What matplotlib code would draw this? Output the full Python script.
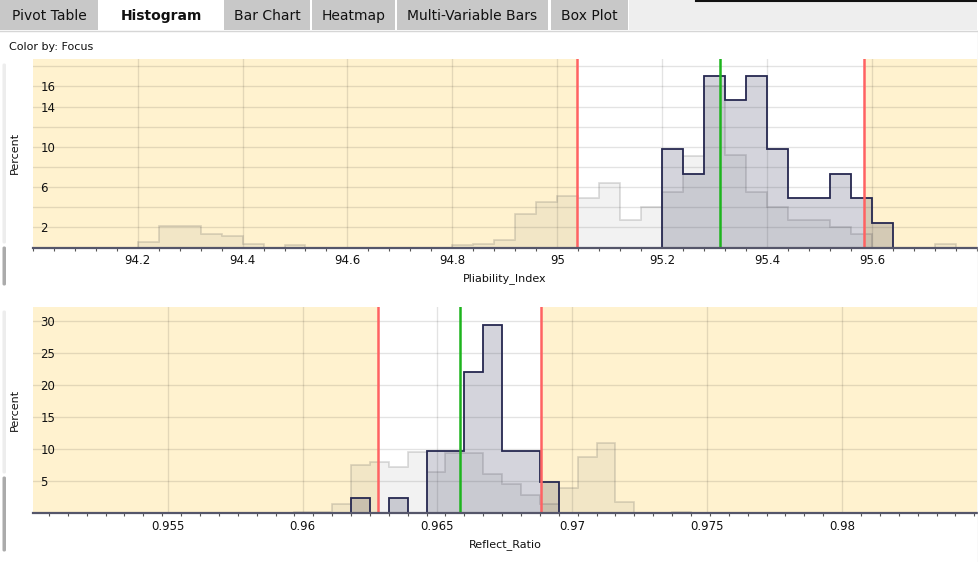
import numpy as np
import matplotlib
matplotlib.use("Agg")
import matplotlib.pyplot as plt
from matplotlib.patches import Rectangle, FancyBboxPatch
from matplotlib.ticker import FixedLocator

# ---------------- data ----------------
tab_labels = ["Pivot Table", "Histogram", "Bar Chart", "Heatmap", "Multi-Variable Bars", "Box Plot"]
active_tab = "Histogram"
color_by_label = "Color by: Focus"

# Pliability_Index histogram (percent per bin, bins of 0.04 starting at 94.0)
pliability_bin_start = 94.0
pliability_bin_width = 0.04
pliability_other = [0, 0, 0, 0, 0, 0.5, 2.1, 2.1, 1.3, 1.1,
                    0.35, 0, 0.2, 0, 0, 0, 0, 0, 0, 0,
                    0.2, 0.35, 0.75, 3.35, 4.5, 5.1, 4.9, 6.45, 2.7, 4.0,
                    5.55, 9.1, 16.0, 9.2, 5.55, 4.0, 2.7, 2.7, 2.0, 1.35,
                    0, 0, 0, 0.3, 0]
pliability_focus = [0] * 30 + [9.76, 7.32, 17.07, 14.63, 17.07, 9.76, 4.88, 4.88, 7.32, 4.88,
                               2.44] + [0] * 4
pliability_lsl = 95.038
pliability_usl = 95.585
pliability_center = 95.311
pliability_xlim = (94.0, 95.8)
pliability_xticks = [94.2, 94.4, 94.6, 94.8, 95.0, 95.2, 95.4, 95.6]
pliability_xtick_labels = ["94.2", "94.4", "94.6", "94.8", "95", "95.2", "95.4", "95.6"]
pliability_ygrid = [0, 2, 4, 6, 8, 10, 12, 14, 16, 18]
pliability_yticks = [2, 6, 10, 14, 16]
pliability_ytick_labels = ["2", "6", "10", "14", "16"]
pliability_ymax = 18.7

# Reflect_Ratio histogram (percent per bin, bins of 0.0007 starting at 0.9499)
reflect_bin_start = 0.9499
reflect_bin_width = 0.0007
reflect_other = [0] * 14 + [0.2, 0.2, 1.5, 7.6, 8.0, 7.2, 9.5, 6.4, 9.4, 9.4,
                            6.1, 4.5, 2.8, 1.5, 3.9, 8.7, 11.0, 1.8, 0, 0,
                            0.15] + [0] * 15
reflect_focus = [0] * 17 + [2.44, 0, 2.44, 0, 9.76, 9.76, 21.95, 29.27, 9.76, 9.76,
                            4.88] + [0] * 22
reflect_lsl = 0.96279
reflect_usl = 0.96885
reflect_center = 0.96584
reflect_xlim = (0.95, 0.985)
reflect_xticks = [0.955, 0.96, 0.965, 0.97, 0.975, 0.98]
reflect_xtick_labels = ["0.955", "0.96", "0.965", "0.97", "0.975", "0.98"]
reflect_yticks = [5, 10, 15, 20, 25, 30]
reflect_ytick_labels = ["5", "10", "15", "20", "25", "30"]
reflect_ymax = 32.2

# ---------------- style ----------------
plt.rcParams['font.family'] = ['DejaVu Sans']
YELLOW = '#FFF2CF'
OTHER_FACE = (0.5, 0.5, 0.5, 0.10)
OTHER_EDGE = (0.35, 0.35, 0.35, 0.22)
FOCUS_FACE = (40 / 255, 42 / 255, 80 / 255, 0.20)
FOCUS_EDGE = '#262850'
RED = '#FF6262'
GREEN = '#1DB41D'
GRID = (0, 0, 0, 0.11)

W, H = 979, 562
fig = plt.figure(figsize=(W / 100, H / 100), dpi=100)
fig.patch.set_facecolor('white')


def px_axes(left, top, right, bottom):
    return [left / W, (H - bottom) / H, (right - left) / W, (bottom - top) / H]


def draw_hist(ax, start, width, other, focus, lsl, usl, center, xlim, xticks, xlabels,
              ygrid, yticks, ylabels, ymax, xlabel):
    n = len(other)
    edges = start + width * np.arange(n + 1)
    ax.set_xlim(*xlim)
    ax.set_ylim(0, ymax)
    ax.set_facecolor('white')
    # out-of-spec shading
    ax.axvspan(xlim[0], lsl, color=YELLOW, zorder=0, lw=0)
    ax.axvspan(usl, xlim[1], color=YELLOW, zorder=0, lw=0)
    # grid
    for g in ygrid:
        ax.axhline(g, color=GRID, lw=1.0, zorder=0.5)
    for t in xticks:
        ax.axvline(t, color=GRID, lw=1.0, zorder=0.5)
    # histograms
    ax.stairs(other, edges, fill=True, facecolor=OTHER_FACE, edgecolor=OTHER_EDGE,
              lw=1.2, zorder=2)
    ax.stairs(focus, edges, fill=True, facecolor=FOCUS_FACE, edgecolor='none',
              zorder=3)
    ax.stairs(focus, edges, fill=False, color=FOCUS_EDGE, lw=1.3, zorder=3.5)
    # spec / center lines
    ax.axvline(lsl, color=RED, lw=1.8, zorder=4)
    ax.axvline(usl, color=RED, lw=1.8, zorder=4)
    ax.axvline(center, color=GREEN, lw=1.8, zorder=4)
    # spines
    for s in ['top', 'right', 'left']:
        ax.spines[s].set_visible(False)
    ax.spines['bottom'].set_color('#55566A')
    ax.spines['bottom'].set_linewidth(1.6)
    ax.spines['bottom'].set_zorder(5)
    # x ticks
    ax.xaxis.set_major_locator(FixedLocator(xticks))
    ax.set_xticklabels(xlabels)
    ax.xaxis.set_minor_locator(FixedLocator(list(edges)))
    ax.tick_params(axis='x', which='major', length=0, pad=5, labelsize=8.5, labelcolor='#111111')
    ax.tick_params(axis='x', which='minor', length=2.5, width=0.8, color='#555555', direction='out')
    # y ticks inside
    ax.yaxis.set_major_locator(FixedLocator(yticks))
    ax.set_yticklabels(ylabels)
    ax.tick_params(axis='y', which='major', length=0, pad=-5.5, labelsize=8.5, labelcolor='#111111')
    for lab in ax.get_yticklabels():
        lab.set_horizontalalignment('left')
    ax.set_ylabel('Percent', fontsize=8, color='#111111')
    ax.yaxis.set_label_coords(-0.0135, 0.5)
    ax.set_xlabel(xlabel, fontsize=8, color='#111111')


ax1 = fig.add_axes(px_axes(32.7, 59.3, 977, 247.5))
draw_hist(ax1, pliability_bin_start, pliability_bin_width, pliability_other, pliability_focus,
          pliability_lsl, pliability_usl, pliability_center, pliability_xlim,
          pliability_xticks, pliability_xtick_labels, pliability_ygrid,
          pliability_yticks, pliability_ytick_labels, pliability_ymax, 'Pliability_Index')
ax1.xaxis.set_label_coords(0.5, -0.135)

ax2 = fig.add_axes(px_axes(32.7, 306.7, 977, 513.3))
draw_hist(ax2, reflect_bin_start, reflect_bin_width, reflect_other, reflect_focus,
          reflect_lsl, reflect_usl, reflect_center, reflect_xlim,
          reflect_xticks, reflect_xtick_labels, reflect_yticks,
          reflect_yticks, reflect_ytick_labels, reflect_ymax, 'Reflect_Ratio')
ax2.xaxis.set_label_coords(0.5, -0.125)

# ---------------- UI chrome (tabs, labels, side bars) ----------------
ui = fig.add_axes([0, 0, 1, 1], zorder=10)
ui.set_xlim(0, W)
ui.set_ylim(H, 0)
ui.set_axis_off()

tab_spans = [(0, 98), (100, 222), (224, 310), (312, 395), (397, 548), (551, 628)]
ui.add_patch(Rectangle((629, 0), 348, 30, facecolor='#EEEEEE', edgecolor='none'))
ui.plot([0, 977], [30.5, 30.5], color='#D6D6D6', lw=1)
ui.plot([696, 976], [0.8, 0.8], color='#111111', lw=1.5)
for label, (x0, x1) in zip(tab_labels, tab_spans):
    active = label == active_tab
    ui.add_patch(Rectangle((x0, 0), x1 - x0, 30,
                           facecolor='white' if active else '#C8C8C8', edgecolor='none'))
    ui.text((x0 + x1) / 2, 16, label, ha='center', va='center',
            fontsize=10, fontweight='bold' if active else 'normal',
            color='#111111')
ui.text(9, 46.5, color_by_label, ha='left', va='center', fontsize=8, color='#111111')

# side splitter bars
for (y0, y1, c) in [(62, 245, '#EDEDED'), (245, 287, '#ABABAB'),
                    (309, 475, '#EDEDED'), (475, 553, '#ABABAB')]:
    ui.add_patch(FancyBboxPatch((2.5, y0 + 1.5), 3.5, y1 - y0 - 3,
                                boxstyle='round,pad=0,rounding_size=1.5',
                                facecolor=c, edgecolor='none'))
ui.plot([978, 978], [31, H], color='#E2E2E2', lw=1)

fig.savefig('out.png', dpi=100)
